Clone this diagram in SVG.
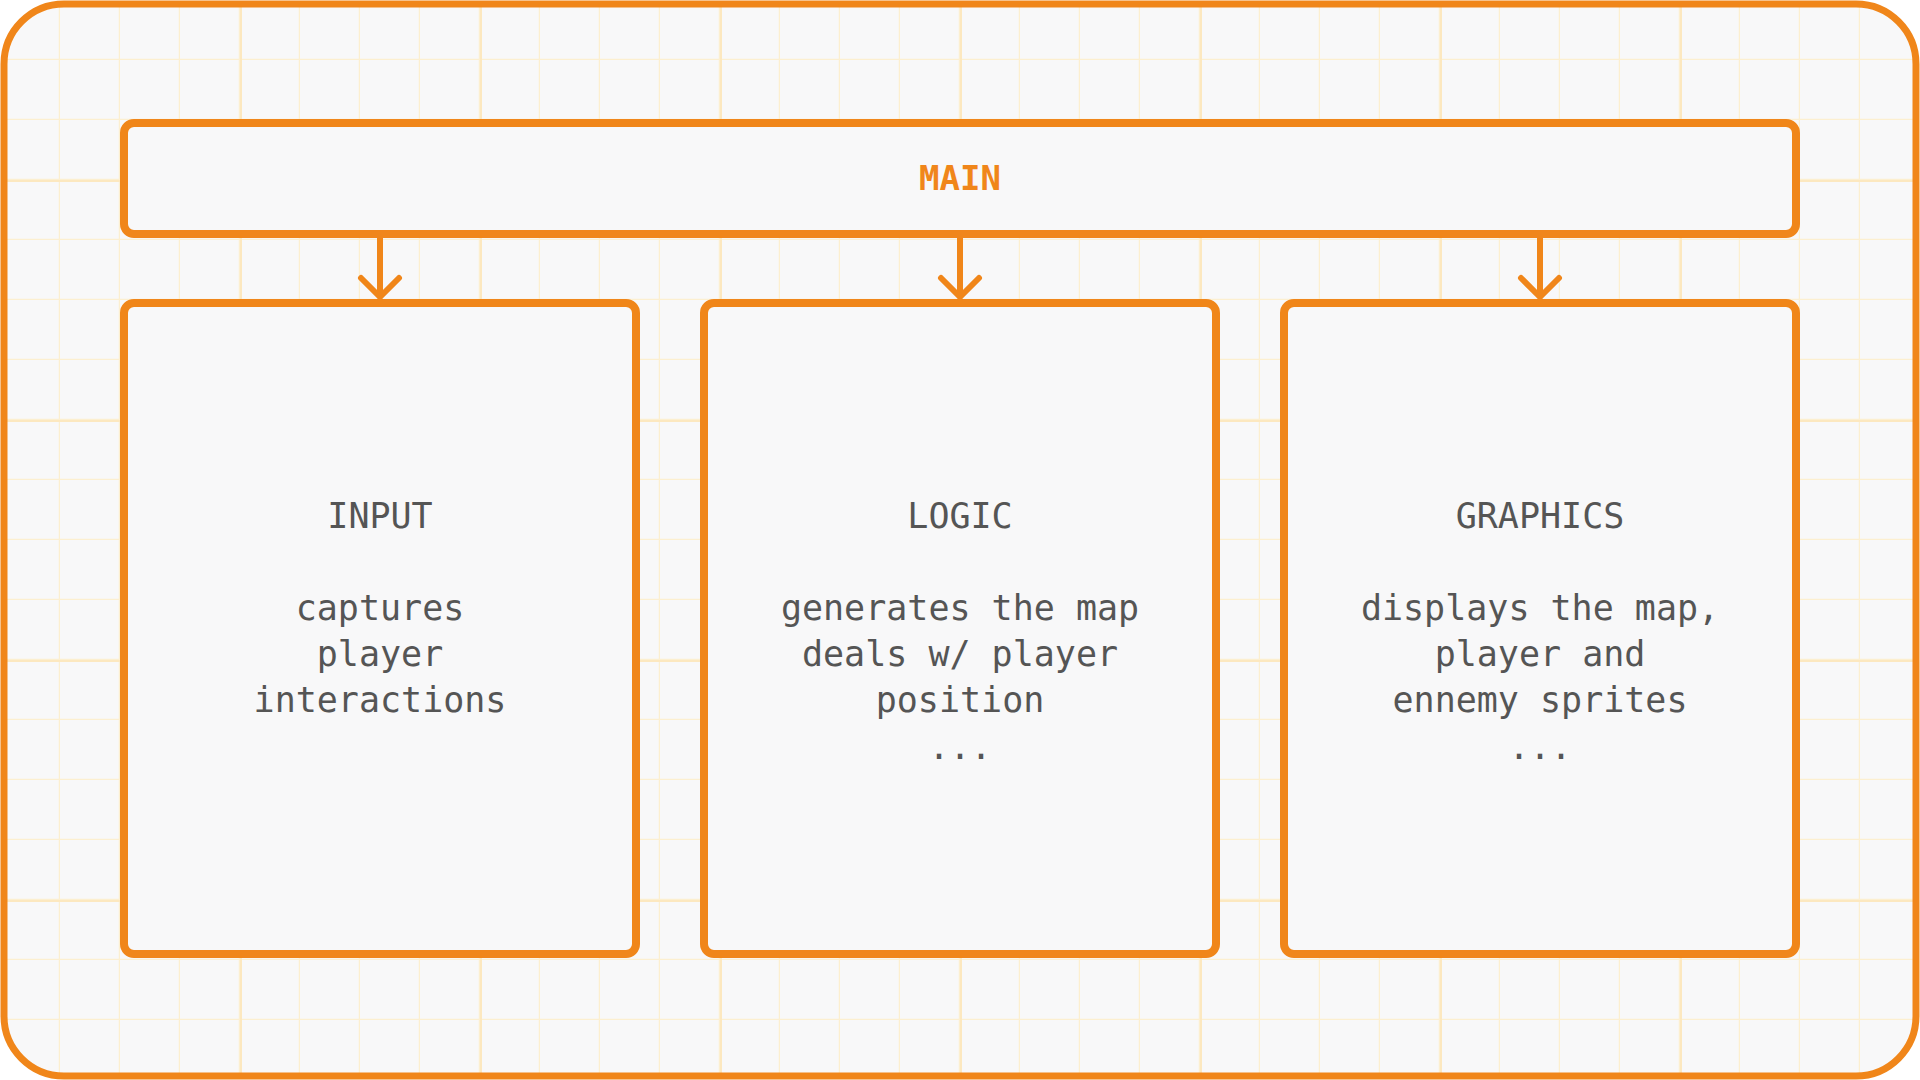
<svg xmlns="http://www.w3.org/2000/svg" width="1920" height="1080" viewBox="0 0 1920 1080">
  <defs>
    <style>
      .frame { fill: #f8f8f9; stroke: none; }
      .node { fill: #f8f8f9; stroke: #f0861a; stroke-width: 8; }
      .grid-minor { stroke: #fcefd0; stroke-width: 2.5; fill: none; }
      .grid-major { stroke: #fce8c0; stroke-width: 4; fill: none; }
      .conn { fill: none; stroke: #f0861a; stroke-width: 6; stroke-linecap: round; stroke-linejoin: round; }
      .label { font-family: "DejaVu Sans Mono", "Liberation Mono", monospace; font-size: 35px; fill: #555555; text-anchor: middle; }
      .title { font-family: "DejaVu Sans Mono", "Liberation Mono", monospace; font-size: 34px; font-weight: bold; fill: #f0861a; text-anchor: middle; }
    </style>
    <clipPath id="frameClip">
      <rect x="4" y="4" width="1912" height="1072" rx="60" ry="60"/>
    </clipPath>
    <pattern id="minorGrid" x="0" y="0" width="60" height="60" patternUnits="userSpaceOnUse">
      <path d="M60 0 V60 M0 60 H60" class="grid-minor"/>
    </pattern>
    <pattern id="majorGrid" x="0" y="180" width="240" height="240" patternUnits="userSpaceOnUse">
      <path d="M0 0 V240 M0 0 H240" class="grid-major"/>
    </pattern>
  </defs>

  <rect x="0" y="0" width="1920" height="1080" fill="#ffffff"/>

  <g id="background">
    <rect class="frame" x="4" y="4" width="1912" height="1072" rx="60" ry="60"/>
    <g clip-path="url(#frameClip)">
      <rect x="4" y="4" width="1912" height="1072" fill="url(#minorGrid)"/>
      <rect x="4" y="4" width="1912" height="1072" fill="url(#majorGrid)"/>
    </g>
    <rect x="4" y="4" width="1912" height="1072" rx="60" ry="60" fill="none" stroke="#f0861a" stroke-width="7"/>
  </g>

  <g id="connectors">
    <path class="conn" d="M380 237 V297 M361 278 L380 297 L399 278"/>
    <path class="conn" d="M960 237 V297 M941 278 L960 297 L979 278"/>
    <path class="conn" d="M1540 237 V297 M1521 278 L1540 297 L1559 278"/>
  </g>

  <g id="main">
    <rect class="node" x="124" y="123" width="1672" height="111" rx="10" ry="10"/>
    <text class="title" x="960" y="190">MAIN</text>
  </g>

  <g id="input">
    <rect class="node" x="124" y="303" width="512" height="651" rx="10" ry="10"/>
    <text class="label" x="380" y="528">INPUT</text>
    <text class="label" x="380" y="620">captures</text>
    <text class="label" x="380" y="666">player</text>
    <text class="label" x="380" y="712">interactions</text>
  </g>

  <g id="logic">
    <rect class="node" x="704" y="303" width="512" height="651" rx="10" ry="10"/>
    <text class="label" x="960" y="528">LOGIC</text>
    <text class="label" x="960" y="620">generates the map</text>
    <text class="label" x="960" y="666">deals w/ player </text>
    <text class="label" x="960" y="712">position</text>
    <text class="label" x="960" y="759">...</text>
  </g>

  <g id="graphics">
    <rect class="node" x="1284" y="303" width="512" height="651" rx="10" ry="10"/>
    <text class="label" x="1540" y="528">GRAPHICS</text>
    <text class="label" x="1540" y="620">displays the map,</text>
    <text class="label" x="1540" y="666">player and</text>
    <text class="label" x="1540" y="712">ennemy sprites</text>
    <text class="label" x="1540" y="759">...</text>
  </g>
</svg>
